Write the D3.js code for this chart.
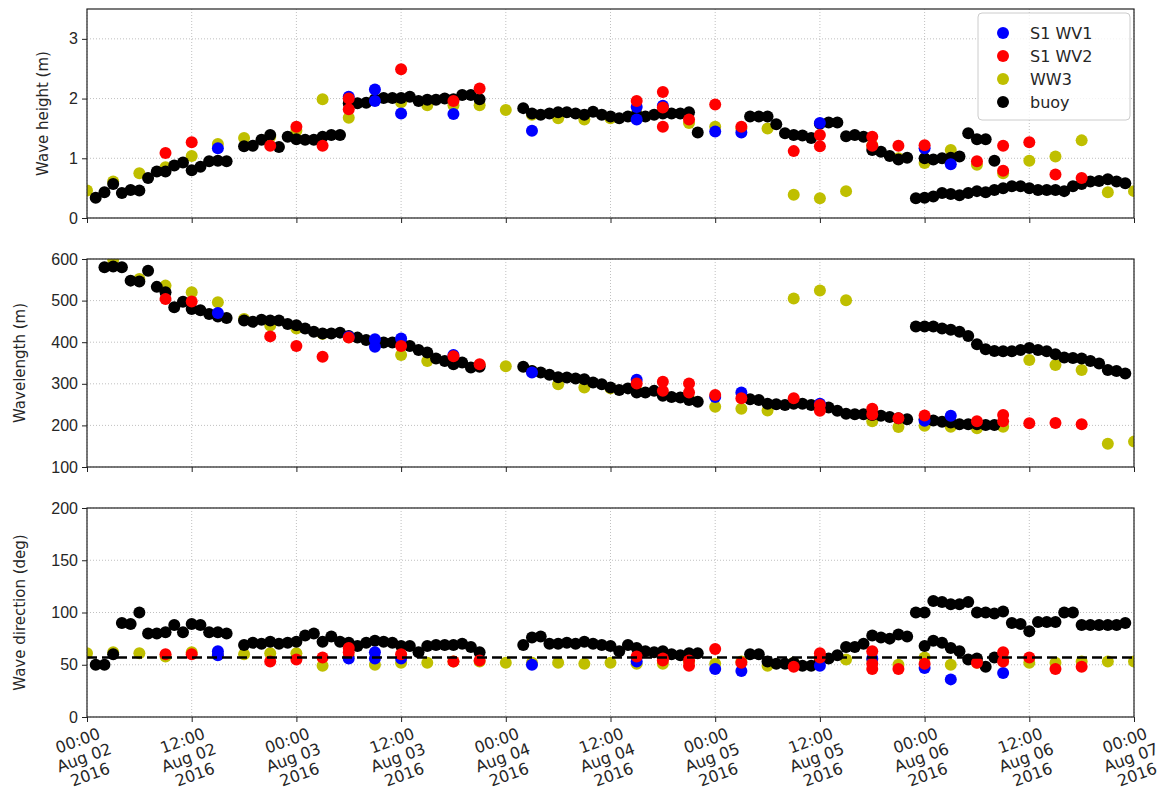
<!DOCTYPE html>
<html>
<head>
<meta charset="utf-8">
<script src="https://cdn.jsdelivr.net/npm/d3@7"></script>
<style>
  body { margin: 0; background: #fff; }
  svg { display: block; font-family: "DejaVu Sans", sans-serif; }
</style>
</head>
<body>
<div id="root"></div>
<script>
const width = 1166;
const height = 792;

// hours since 2016-08-02 00:00, value
const buoyHeight = [
  [1,0.34],[2,0.43],[3,0.57],[4,0.42],[5,0.47],[6,0.46],[7,0.67],[8,0.78],[9,0.78],[10,0.88],[11,0.93],[12,0.80],[13,0.86],[14,0.95],[15,0.96],[16,0.95],
  [18,1.20],[19,1.21],[20,1.31],[21,1.39],[22,1.19],[23,1.36],[24,1.32],[25,1.31],[26,1.31],[27,1.36],[28,1.39],[29,1.39],
  [30,1.92],[31,1.92],[32,1.93],[33,1.99],[34,2.01],[35,2.01],[36,2.01],[37,2.03],[38,1.96],[39,1.98],[40,1.98],[41,2.00],[42,1.99],[43,2.06],[44,2.06],[45,1.99],
  [50,1.84],[51,1.75],[52,1.73],[53,1.75],[54,1.77],[55,1.77],[56,1.75],[57,1.73],[58,1.78],[59,1.73],[60,1.70],[61,1.67],[62,1.70],[63,1.73],[64,1.70],[65,1.73],[66,1.75],[67,1.75],[68,1.75],[69,1.77],[70,1.43],
  [76,1.70],[77,1.70],[78,1.70],[79,1.57],[80,1.42],[81,1.39],[82,1.38],[83,1.34],[84,1.58],[85,1.60],[86,1.60],[87,1.37],[88,1.39],[89,1.36],
  [90,1.14],[91,1.11],[92,1.04],[93,0.98],[94,1.01],[96,1.00],[97,0.98],[98,1.00],[99,1.01],[100,1.03],[101,1.42],[102,1.32],[103,1.32],[104,0.96],
  [95,0.33],[96,0.34],[97,0.36],[98,0.42],[99,0.40],[100,0.38],[101,0.42],[102,0.45],[103,0.43],[104,0.47],[105,0.50],[106,0.53],[107,0.53],[108,0.50],
  [109,0.47],[110,0.47],[111,0.47],[112,0.45],[113,0.53],[114,0.57],[115,0.61],[116,0.62],[117,0.65],[118,0.61],[119,0.58]
];
const wv1Height = [[15,1.17],[30,2.03],[33,2.15],[33,1.96],[36,1.75],[42,1.74],[51,1.46],[63,1.86],[63,1.65],[66,1.88],[72,1.45],[75,1.43],[84,1.59],[96,1.17],[99,0.90]];
const wv2Height = [[9,1.09],[12,1.27],[21,1.21],[24,1.53],[27,1.21],[30,2.00],[30,1.82],[36,2.49],[42,1.96],[45,2.17],[63,1.96],[66,2.11],[66,1.85],[66,1.53],[69,1.65],
  [72,1.90],[75,1.53],[81,1.12],[84,1.39],[84,1.20],[90,1.36],[90,1.21],[93,1.21],[96,1.22],[102,0.95],[105,1.21],[105,0.79],[108,1.27],[111,0.73],[114,0.67]];
const ww3Height = [[0,0.46],[3,0.61],[6,0.75],[9,0.85],[12,1.04],[15,1.24],[18,1.34],[21,1.36],[24,1.46],[27,1.99],[30,1.68],[33,1.98],[36,1.94],[39,1.89],
  [42,1.89],[45,1.89],[48,1.81],[51,1.73],[54,1.67],[57,1.65],[60,1.67],[63,1.75],[66,1.78],[69,1.59],[72,1.53],[75,1.50],[78,1.50],[81,0.39],[84,0.33],
  [87,0.45],[90,1.22],[93,1.00],[96,0.92],[99,1.14],[102,0.89],[105,0.75],[108,0.96],[111,1.03],[114,1.30],[117,0.43],[120,0.45]];

const buoyLength = [
  [2,580],[3,582],[4,580],[5,548],[6,546],[7,572],[8,533],[9,520],[10,484],[11,497],[12,480],[13,477],[14,468],[15,462],[16,458],
  [18,452],[19,449],[20,454],[21,452],[22,452],[23,444],[24,441],[25,433],[26,425],[27,421],[28,421],[29,423],[30,415],[31,411],[32,405],
  [33,402],[34,399],[35,399],[36,398],[37,391],[38,381],[39,375],[40,361],[41,355],[42,347],[43,351],[44,339],[45,341],
  [50,341],[51,331],[52,327],[53,322],[54,316],[55,315],[56,313],[57,311],[58,303],[59,299],[60,291],[61,285],[62,289],[63,279],[64,279],
  [65,283],[66,271],[67,268],[68,267],[69,261],[70,257],
  [76,263],[77,261],[78,252],[79,251],[80,249],[81,252],[82,252],[83,249],[84,247],[85,243],[86,235],[87,228],[88,227],[89,227],
  [90,225],[91,223],[92,220],[93,217],[94,215],[96,215],[97,212],[98,209],[99,207],[100,203],[101,203],[102,203],[103,201],[104,201],
  [95,438],[96,438],[97,438],[98,433],[99,430],[100,425],[101,415],[102,395],[103,383],[104,379],[105,378],[106,378],[107,381],[108,386],
  [109,381],[110,378],[111,371],[112,363],[113,362],[114,361],[115,355],[116,349],[117,333],[118,331],[119,325]
];
const wv1Length = [[15,470],[30,413],[33,407],[33,389],[36,409],[42,369],[51,327],[63,310],[72,268],[75,279],[84,252],[96,211],[99,223]];
const wv2Length = [[9,504],[12,498],[21,414],[24,391],[27,365],[30,411],[36,391],[42,366],[45,347],[63,301],[66,305],[66,283],[69,301],[69,279],
  [72,273],[75,265],[81,265],[84,249],[84,235],[90,240],[90,226],[93,217],[96,224],[102,210],[105,225],[105,210],[108,205],[111,206],[114,203]];
const ww3Length = [[3,598],[6,552],[9,536],[12,520],[15,496],[18,456],[21,440],[24,433],[27,420],[30,412],[33,400],[36,369],[39,355],[42,350],
  [45,345],[48,342],[51,330],[54,299],[57,291],[60,289],[63,284],[66,276],[69,265],[72,245],[75,240],[78,236],[81,505],[84,524],[87,501],
  [90,210],[93,196],[96,199],[99,197],[102,193],[105,197],[108,357],[111,345],[114,333],[117,156],[120,161]];

const buoyDirection = [
  [1,50],[2,50],[3,60],[4,90],[5,89],[6,100],[7,80],[8,80],[9,81],[10,88],[11,81],[12,89],[13,88],[14,81],[15,81],[16,80],
  [18,69],[19,71],[20,70],[21,72],[22,70],[23,71],[24,72],[25,78],[26,80],[27,72],[28,77],[29,72],[30,71],[31,68],[32,71],[33,73],
  [34,72],[35,71],[36,68],[37,68],[38,62],[39,68],[40,69],[41,69],[42,69],[43,70],[44,67],[45,62],
  [50,69],[51,76],[52,77],[53,70],[54,70],[55,71],[56,70],[57,72],[58,70],[59,69],[60,68],[61,63],[62,69],[63,66],[64,63],[65,62],
  [66,63],[67,60],[68,59],[69,61],[70,61],
  [76,60],[77,60],[78,53],[79,51],[80,51],[81,52],[82,49],[83,49],[84,54],[85,56],[86,59],[87,67],[88,67],[89,70],
  [90,78],[91,76],[92,75],[93,79],[94,77],[96,68],[97,73],[98,71],[99,66],[100,63],[101,55],[102,56],[103,48],[104,57],
  [95,100],[96,100],[97,111],[98,110],[99,108],[100,108],[101,110],[102,100],[103,100],[104,99],[105,101],[106,90],[107,89],[108,82],
  [109,91],[110,91],[111,91],[112,100],[113,100],[114,88],[115,88],[116,88],[117,88],[118,88],[119,90]
];
const wv1Direction = [[15,63],[15,59],[30,56],[33,62],[33,56],[36,56],[51,50],[63,53],[72,46],[75,44],[84,49],[90,56],[96,47],[99,36],[105,42]];
const wv2Direction = [[9,60],[12,60],[21,53],[24,55],[27,57],[30,66],[30,62],[36,60],[42,53],[45,54],[63,58],[66,56],[66,54],[69,54],[69,49],
  [72,65],[75,52],[81,48],[84,61],[84,57],[90,63],[90,51],[90,46],[93,46],[96,51],[102,52],[105,62],[105,53],[108,57],[111,46],[114,48]];
const ww3Direction = [[0,61],[3,62],[6,61],[9,58],[12,62],[15,60],[18,60],[21,61],[24,61],[27,49],[30,58],[33,50],[36,52],[39,52],[42,53],
  [45,53],[48,52],[51,52],[54,52],[57,51],[60,52],[63,51],[66,51],[69,53],[72,51],[75,53],[78,49],[81,52],[84,55],[87,55],[90,55],
  [93,50],[96,57],[99,50],[102,52],[105,55],[108,52],[111,52],[114,53],[117,53],[120,53]];
const meanDirection = 57;

const seriesNames = ['S1 WV1', 'S1 WV2', 'WW3', 'buoy'];
const seriesColors = ['#0000ff', '#ff0000', '#bfbf00', '#000000'];
const yLabels = ['Wave height (m)', 'Wavelength (m)', 'Wave direction (deg)'];
const yDomains = [[0, 3.5], [100, 600], [0, 200]];
const yTicks = [[0, 1, 2, 3], [100, 200, 300, 400, 500, 600], [0, 50, 100, 150, 200]];
const title = 'Comparison of buoy, S1 WV1/WV2 and WW3 wave parameters (Aug 2016)';

const t0 = Date.UTC(2016, 7, 2);
const toDate = h => new Date(t0 + h * 3600e3);

const left = 87, right = 1134;
const panelBox = [[9, 218], [259, 467], [508, 717]];

const x = d3.scaleUtc()
  .domain([toDate(0), toDate(120)])
  .range([left, right]);
const xTicks = d3.range(0, 121, 12).map(toDate);

const svg = d3.select('#root').append('svg')
  .attr('width', width)
  .attr('height', height);

// title sits above the top edge, as in the source (only descenders show)
svg.append('text')
  .attr('x', 600).attr('y', -4)
  .attr('text-anchor', 'middle')
  .style('font-size', '21px').style('font-weight', 'bold')
  .text(title);

const panelData = [
  [ww3Height, buoyHeight, wv1Height, wv2Height],
  [ww3Length, buoyLength, wv1Length, wv2Length],
  [ww3Direction, buoyDirection, wv1Direction, wv2Direction]
];
// draw order: WW3, buoy, WV1, WV2
const drawColors = [seriesColors[2], seriesColors[3], seriesColors[0], seriesColors[1]];

panelData.forEach((series, p) => {
  const [top, bottom] = panelBox[p];
  const y = d3.scaleLinear().domain(yDomains[p]).range([bottom, top]);
  const g = svg.append('g');

  g.append('clipPath').attr('id', `clip${p}`)
    .append('rect').attr('x', left).attr('y', top)
    .attr('width', right - left).attr('height', bottom - top);

  // grid
  g.append('g').selectAll('line').data(xTicks).enter().append('line')
    .attr('x1', d => x(d)).attr('x2', d => x(d))
    .attr('y1', top).attr('y2', bottom)
    .attr('stroke', '#b0b0b0').attr('stroke-width', 0.8).attr('stroke-dasharray', '1,2');
  g.append('g').selectAll('line').data(yTicks[p]).enter().append('line')
    .attr('x1', left).attr('x2', right)
    .attr('y1', d => y(d)).attr('y2', d => y(d))
    .attr('stroke', '#b0b0b0').attr('stroke-width', 0.8).attr('stroke-dasharray', '1,2');

  const dots = g.append('g').attr('clip-path', `url(#clip${p})`);
  series.forEach((data, i) => {
    dots.append('g').selectAll('circle').data(data).enter().append('circle')
      .attr('cx', d => x(toDate(d[0])))
      .attr('cy', d => y(d[1]))
      .attr('r', 6)
      .attr('fill', drawColors[i]);
  });

  if (p === 2) {
    g.append('line')
      .attr('x1', left).attr('x2', right)
      .attr('y1', y(meanDirection)).attr('y2', y(meanDirection))
      .attr('stroke', '#000').attr('stroke-width', 2.5).attr('stroke-dasharray', '10,5');
  }

  // frame
  g.append('rect').attr('x', left).attr('y', top)
    .attr('width', right - left).attr('height', bottom - top)
    .attr('fill', 'none').attr('stroke', '#222').attr('stroke-width', 1.2);

  const yAxis = d3.axisLeft(y).tickValues(yTicks[p]).tickSize(5).tickPadding(4).tickFormat(d3.format('d'));
  const ya = g.append('g').attr('transform', `translate(${left},0)`).call(yAxis);
  ya.select('.domain').remove();
  ya.selectAll('text').style('font-size', '16px').attr('fill', '#262626');
  ya.selectAll('line').attr('stroke', '#222');

  const xAxis = d3.axisBottom(x).tickValues(xTicks).tickSize(5).tickFormat('');
  const xa = g.append('g').attr('transform', `translate(0,${bottom})`).call(xAxis);
  xa.select('.domain').remove();
  xa.selectAll('line').attr('stroke', '#222');

  g.append('text')
    .attr('transform', `translate(${p === 0 ? 43 : 20},${(top + bottom) / 2}) rotate(-90)`)
    .attr('text-anchor', 'middle')
    .attr('dy', '0.35em')
    .style('font-size', '15px')
    .attr('fill', '#262626')
    .text(yLabels[p]);
});

// x tick labels (three lines, rotated)
const fmt = d3.utcFormat('%H:%M|%b %d|%Y');
const labels = svg.append('g').selectAll('g').data(xTicks).enter().append('g')
  .attr('transform', d => `translate(${x(d)},${panelBox[2][1] + 5}) rotate(-20)`);
labels.each(function(d) {
  const lines = fmt(d).split('|');
  d3.select(this).selectAll('text').data(lines).enter().append('text')
    .attr('x', -15)
    .attr('y', (l, i) => 20 + i * 18)
    .attr('text-anchor', 'middle')
    .style('font-size', '16px')
    .attr('fill', '#262626')
    .text(l => l);
});

// legend
const legend = svg.append('g').attr('transform', 'translate(978,13)');
legend.append('rect')
  .attr('width', 152).attr('height', 107).attr('rx', 4)
  .attr('fill', '#fff').attr('fill-opacity', 0.8)
  .attr('stroke', '#cccccc');
seriesNames.forEach((name, i) => {
  legend.append('circle')
    .attr('cx', 25).attr('cy', 20 + i * 23).attr('r', 6)
    .attr('fill', seriesColors[i]);
  legend.append('text')
    .attr('x', 52).attr('y', 20 + i * 23).attr('dy', '0.35em')
    .style('font-size', '16px').attr('fill', '#262626')
    .text(name);
});
</script>
</body>
</html>
